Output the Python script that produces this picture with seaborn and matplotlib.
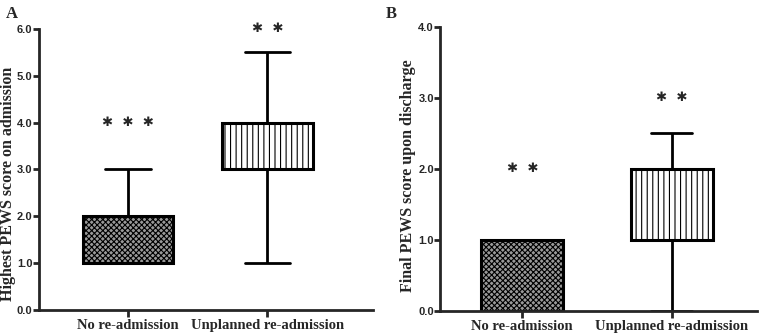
import pandas as pd
import seaborn as sns
import matplotlib.pyplot as plt
from matplotlib.ticker import FormatStrFormatter, MultipleLocator

sns.set_style("ticks")
plt.rcParams['font.family'] = ['Liberation Serif', 'DejaVu Serif']
plt.rcParams['font.weight'] = 'bold'
plt.rcParams['hatch.linewidth'] = 0.8

groups = ["No re-admission", "Unplanned re-admission"]

# values chosen so the quartiles / min / max match the published boxes
admission_no = [1, 1, 1, 1, 2, 2, 3]
admission_unplanned = [1, 3, 3, 4, 4, 4, 5.5]
discharge_no = [0, 0, 0, 1, 1, 1, 1]
discharge_unplanned = [0, 1, 1, 1, 2, 2, 2.5]

stars_admission = ["✱  ✱  ✱", "✱  ✱"]
stars_admission_y = [4.0, 6.0]
stars_discharge = ["✱  ✱", "✱  ✱"]
stars_discharge_y = [2.0, 3.0]


def long_form(a, b):
    return pd.DataFrame({
        "group": [groups[0]] * len(a) + [groups[1]] * len(b),
        "score": list(a) + list(b),
    })


def draw_panel(ax, df, ylab, ymax, stars, stars_y, width, label_xy):
    sns.boxplot(data=df, x="group", y="score", order=groups, whis=(0, 100),
                width=width, linewidth=2, color="white", linecolor="black",
                showfliers=False, ax=ax)
    hatches = ["xxxxxx", "|||"]
    for patch, h in zip(ax.patches, hatches):
        patch.set_hatch(h)
        patch.set_edgecolor("black")
        patch.set_linewidth(2.2)
    if len(ax.patches):
        ax.patches[0].set_facecolor("#9a9a9a")
    for i, (s, y) in enumerate(zip(stars, stars_y)):
        ax.text(i, y, s, ha="center", va="center", fontsize=9.5,
                family="DejaVu Sans", clip_on=False)
    ax.set_ylim(0, ymax)
    ax.yaxis.set_major_locator(MultipleLocator(1))
    ax.yaxis.set_major_formatter(FormatStrFormatter("%.1f"))
    ax.set_xlabel("")
    ax.set_ylabel(ylab, fontsize=11.5, fontweight="bold")
    ax.yaxis.set_label_coords(*label_xy)
    ax.tick_params(axis="y", width=2, length=4, labelsize=8, pad=0.5)
    ax.tick_params(axis="x", width=2, length=5, labelsize=10.5, pad=1.5)
    for lab in ax.get_xticklabels():
        lab.set_fontweight("bold")
    for lab in ax.get_yticklabels():
        lab.set_fontweight("bold")
        lab.set_family(["Liberation Sans", "DejaVu Sans"])
    for sp in ["left", "bottom"]:
        ax.spines[sp].set_linewidth(2)
    sns.despine(ax=ax)


fig = plt.figure(figsize=(7.6, 3.33), dpi=100)
ax1 = fig.add_axes([0.051, 0.069, 0.440, 0.844])
ax2 = fig.add_axes([0.579, 0.066, 0.417, 0.853])

draw_panel(ax1, long_form(admission_no, admission_unplanned),
           "Highest PEWS score on admission", 6, stars_admission,
           stars_admission_y, 0.65, (-0.068, 0.45))
ax1.set_xlim(-0.64, 1.76)
draw_panel(ax2, long_form(discharge_no, discharge_unplanned),
           "Final PEWS score upon discharge", 4, stars_discharge,
           stars_discharge_y, 0.55, (-0.075, 0.475))
ax2.set_xlim(-0.55, 1.57)

fig.text(0.008, 0.945, "A", fontsize=12, fontweight="bold")
fig.text(0.507, 0.945, "B", fontsize=12, fontweight="bold")

fig.savefig("out.png", dpi=100)
